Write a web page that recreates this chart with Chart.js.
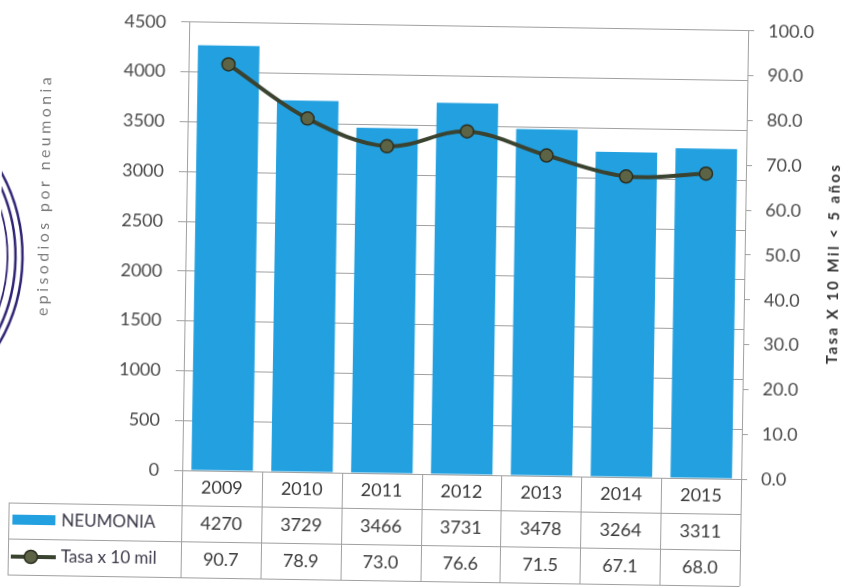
<!DOCTYPE html>
<html><head><meta charset="utf-8">
<script src="https://cdn.jsdelivr.net/npm/chart.js@4.4.1/dist/chart.umd.min.js"></script>
<style>html,body{margin:0;padding:0;background:#fff;overflow:hidden}canvas{display:block;transform:rotate(0.9deg);transform-origin:423px 294px}</style>
</head><body>
<canvas id="c" width="846" height="588"></canvas>
<script>
// ---- data ----
const years = ['2009','2010','2011','2012','2013','2014','2015'];
const neumonia = [4270, 3729, 3466, 3731, 3478, 3264, 3311];
const tasa = [90.7, 78.9, 73.0, 76.6, 71.5, 67.1, 68.0];
const seriesNames = ['NEUMONIA', 'Tasa x 10 mil'];
const leftTitle = 'episodios por neumonia';
const rightTitle = 'Tasa X 10 Mil < 5 años';

const BAR = '#22a0e0';
const LINE = '#3a4230';
const PT = '#5d6446';
const GRID = '#a0a0a0';
const FONT = 'Lato, "DejaVu Sans", sans-serif';

const stampPlugin = {
  id: 'stamp',
  beforeDraw(chart) {
    const ctx = chart.ctx;
    ctx.save();
    ctx.strokeStyle = '#2e2474';
    ctx.lineWidth = 2.5;
    ctx.beginPath(); ctx.arc(-153, 265, 175, -0.6, 0.6); ctx.stroke();
    ctx.beginPath(); ctx.arc(-153, 265, 168, -0.6, 0.6); ctx.stroke();
    ctx.lineWidth = 1.8;
    ctx.beginPath(); ctx.arc(-153, 265, 160, -0.35, 0.35); ctx.stroke();
    ctx.restore();
  }
};

const tablePlugin = {
  id: 'dataTable',
  afterDraw(chart) {
    const ctx = chart.ctx;
    const ca = chart.chartArea;
    const x = chart.scales.x;
    const n = years.length;
    const cw = (ca.right - ca.left) / n;
    const rows = [ca.bottom, ca.bottom + 35, ca.bottom + 71, ca.bottom + 107];
    const legLeft = 12;
    const px = v => Math.round(v) + 0.5;
    ctx.save();
    ctx.strokeStyle = GRID;
    ctx.lineWidth = 1;
    ctx.beginPath();
    for (let r = 1; r < rows.length; r++) {
      ctx.moveTo(legLeft, px(rows[r])); ctx.lineTo(ca.right, px(rows[r]));
    }
    ctx.moveTo(px(legLeft), rows[1]); ctx.lineTo(px(legLeft), rows[3]);
    for (let i = 0; i <= n; i++) {
      const bx = i < n ? x.getPixelForValue(i) - cw / 2 : x.getPixelForValue(n - 1) + cw / 2;
      ctx.moveTo(px(bx), rows[0]); ctx.lineTo(px(bx), rows[3]);
    }
    ctx.stroke();

    ctx.fillStyle = '#3a3a3a';
    ctx.font = '18px ' + FONT;
    ctx.textAlign = 'center';
    ctx.textBaseline = 'middle';
    for (let i = 0; i < n; i++) {
      const cx = x.getPixelForValue(i);
      ctx.fillText(years[i], cx, (rows[0] + rows[1]) / 2);
      ctx.fillText(String(neumonia[i]), cx, (rows[1] + rows[2]) / 2);
      ctx.fillText(tasa[i].toFixed(1), cx, (rows[2] + rows[3]) / 2);
    }

    const y1 = (rows[1] + rows[2]) / 2, y2 = (rows[2] + rows[3]) / 2;
    ctx.fillStyle = BAR;
    ctx.fillRect(16, y1 - 6, 43, 10);
    ctx.strokeStyle = LINE; ctx.lineWidth = 4;
    ctx.beginPath(); ctx.moveTo(15, y2); ctx.lineTo(60, y2); ctx.stroke();
    ctx.fillStyle = PT; ctx.lineWidth = 1.5; ctx.strokeStyle = '#2a2f20';
    ctx.beginPath(); ctx.arc(35, y2, 6.5, 0, Math.PI * 2); ctx.fill(); ctx.stroke();
    ctx.fillStyle = '#3a3a4a';
    ctx.font = '17px ' + FONT;
    ctx.textAlign = 'left';
    ctx.fillText(seriesNames[0], 65, y1);
    ctx.fillText(seriesNames[1], 65, y2);

    ctx.fillStyle = '#7a7a7a';
    ctx.font = '16px ' + FONT;
    ctx.letterSpacing = '3.4px';
    ctx.save();
    ctx.translate(43, 201);
    ctx.rotate(-Math.PI / 2);
    ctx.textAlign = 'center';
    ctx.fillText(leftTitle, 0, 0);
    ctx.restore();

    ctx.fillStyle = '#333';
    ctx.font = 'bold 15px ' + FONT;
    ctx.letterSpacing = '2.4px';
    ctx.save();
    ctx.translate(833, 257);
    ctx.rotate(-Math.PI / 2);
    ctx.textAlign = 'center';
    ctx.fillText(rightTitle, 0, 0);
    ctx.restore();
    ctx.letterSpacing = '0px';
    ctx.restore();
  }
};

new Chart(document.getElementById('c'), {
  data: {
    labels: years,
    datasets: [
      {
        type: 'line', label: seriesNames[1], data: tasa, yAxisID: 'y1', order: 0,
        borderColor: LINE, borderWidth: 4, tension: 0.35,
        pointRadius: 6.5, pointBackgroundColor: PT, pointBorderColor: '#2a2f20', pointBorderWidth: 1.5
      },
      {
        type: 'bar', label: seriesNames[0], data: neumonia, yAxisID: 'y', order: 1,
        backgroundColor: BAR, barPercentage: 0.77, categoryPercentage: 1.0
      }
    ]
  },
  options: {
    responsive: false,
    devicePixelRatio: 1,
    animation: false,
    layout: { padding: { left: 0, right: 0, top: 20, bottom: 114 } },
    plugins: { legend: { display: false }, tooltip: { enabled: false } },
    scales: {
      x: { display: false, offset: true },
      y: {
        position: 'left', min: 0, max: 4500,
        ticks: { stepSize: 500, color: '#4a4a4a', font: { family: FONT, size: 18 }, padding: 15,
          callback: v => String(v) },
        grid: { color: GRID, lineWidth: 1, tickLength: 8 },
        border: { display: true, color: GRID },
        afterFit(s) { s.width = 185; }
      },
      y1: {
        position: 'right', min: 0, max: 100,
        ticks: { stepSize: 10, color: '#4a4a4a', font: { family: FONT, size: 18 }, padding: 14,
          callback: v => Number(v).toFixed(1) },
        grid: { drawOnChartArea: false, color: GRID, tickLength: 6 },
        border: { display: true, color: GRID },
        afterFit(s) { s.width = 102; }
      }
    }
  },
  plugins: [stampPlugin, tablePlugin]
});
</script>
</body></html>
